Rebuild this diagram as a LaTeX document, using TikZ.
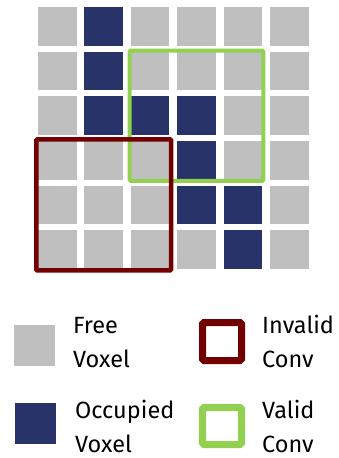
\documentclass[tikz,border=0pt]{standalone}
\usepackage{fontspec}
\setmainfont{Fira Sans}
\usetikzlibrary{fit}
\definecolor{freegray}{HTML}{BFBFBF}
\definecolor{occblue}{HTML}{283369}
\definecolor{badred}{HTML}{730000}
\definecolor{okgreen}{HTML}{92D050}
\tikzset{
  free/.style={rectangle,fill=freegray,minimum width=38.5pt,minimum height=38.5pt,inner sep=0pt},
  occ/.style={free,fill=occblue},
  bad/.style={draw=badred,line width=4.5pt,rounded corners=1pt,inner sep=1.5pt},
  ok/.style={draw=okgreen,line width=4pt,rounded corners=1pt,inner sep=1pt},
  key/.style={minimum width=41pt,minimum height=41pt},
  kbox/.style={rectangle,line width=7pt,rounded corners=1.5pt,minimum width=39pt,inner sep=0pt},
  lg/.style={font=\fontsize{23.5}{34}\selectfont,align=left,anchor=base west,inner sep=0pt},
}
\begin{document}
\begin{tikzpicture}[x=1pt,y=-1pt]
\useasboundingbox (0,0) rectangle (338,458);
% voxel grid, one row per entry
\foreach \r/\row in {0/{free,occ,free,free,free,free},
                     1/{free,occ,free,free,free,free},
                     2/{free,occ,occ,occ,free,free},
                     3/{free,free,free,occ,free,free},
                     4/{free,free,free,occ,occ,free},
                     5/{free,free,free,free,occ,free}}
  \foreach \s [count=\c from 0] in \row
    \node[\s] (c-\r-\c) at ({57.3+46.4*\c},{26.5+44.6*\r}) {};
\node[ok,fit=(c-1-2)(c-3-4)] (vconv) {};
\node[bad,fit=(c-3-0)(c-5-2)] (iconv) {};
% legend (base anchor sits on the second line)
\node[free,key] (kfree) at (34.5,345.5) {};
\node[lg] (tfree) at (73,367) {Free\\Voxel};
\node[occ,key] (kocc) at (35.5,423.5) {};
\node[lg] (tocc) at (75,452) {Occupied\\Voxel};
\node[kbox,draw=badred,minimum height=38pt] (kbad) at (222,341.5) {};
\node[lg] (tbad) at (262,367) {Invalid\\Conv};
\node[kbox,draw=okgreen,minimum height=37pt] (kok) at (222,426) {};
\node[lg] (tok) at (262,452) {Valid\\Conv};
\end{tikzpicture}
\end{document}
